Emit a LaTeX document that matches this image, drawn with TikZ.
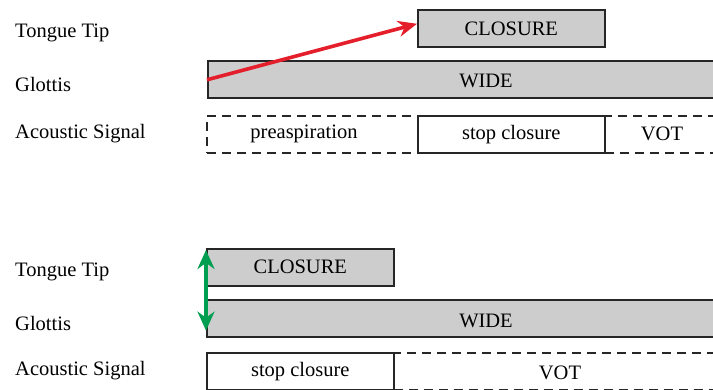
\documentclass[tikz,border=0pt]{standalone}
\usepackage{fontspec}
\setmainfont{Liberation Serif}
\usetikzlibrary{arrows.meta,calc}
\definecolor{boxgray}{RGB}{205,205,205}
\definecolor{arrred}{RGB}{228,30,42}
\definecolor{arrgreen}{RGB}{0,158,80}
\begin{document}
\begin{tikzpicture}[x=1pt,y=-1pt,
  every node/.style={font=\fontsize{20.5}{24}\selectfont},
  tier/.style={anchor=west,inner sep=0pt},
  gbox/.style={draw=black!85,line width=1.6pt,fill=boxgray,anchor=north west,inner sep=0pt,minimum height=37pt},
  wbox/.style={draw=black!85,line width=1.6pt,fill=white,anchor=north west,inner sep=0pt,minimum height=37pt},
  dbox/.style={draw=black!85,line width=1.6pt,dash pattern=on 9pt off 6pt,anchor=north west,inner sep=0pt,minimum height=37pt}]
\useasboundingbox (0,0) rectangle (713,390);
\clip (0,0) rectangle (713,390);
% top panel
\node[tier] (tt1) at (15,33) {Tongue Tip};
\node[tier] (gl1) at (15,84) {Glottis};
\node[tier] (ac1) at (15,134) {Acoustic Signal};
\node[gbox,minimum width=187pt] (c1) at (417,9.5) {CLOSURE};
\node[gbox,minimum width=520pt] (w1) at (207,60.5) {};
\node at (486,81) {WIDE};
\node[dbox,minimum width=211pt] (p1) at (206,115) {};
\node at (304,134) {preaspiration};
\node[dbox,minimum width=120pt] (v1) at (604,115) {};
\node at (662,134) {VOT};
\node[wbox,minimum width=187pt] (s1) at (417,115) {stop closure};
\draw[arrred,line width=3.6pt,-{Stealth[length=19pt,width=16pt]}] (w1.west) -- ([yshift=5pt]c1.west);
% bottom panel
\node[tier] (tt2) at (15,272) {Tongue Tip};
\node[tier] (gl2) at (15,323) {Glottis};
\node[tier] (ac2) at (15,371) {Acoustic Signal};
\node[gbox,minimum width=187pt] (c2) at (206,248) {CLOSURE};
\node[gbox,minimum width=520pt] (w2) at (206,299) {};
\node at (486,321) {WIDE};
\node[dbox,minimum width=330pt] (v2) at (393,352.5) {};
\node at (560,373) {VOT};
\node[wbox,minimum width=187pt] (s2) at (206,352.5) {stop closure};
\coordinate (gtop) at ($(c2.north west)+(0,2)$);
\coordinate (gbot) at ($(w2.south west)+(0,-7)$);
\draw[arrgreen,line width=3.6pt,{Stealth[length=19pt,width=17pt]}-{Stealth[length=19pt,width=17pt]}] (gtop) -- (gbot);
\end{tikzpicture}
\end{document}
